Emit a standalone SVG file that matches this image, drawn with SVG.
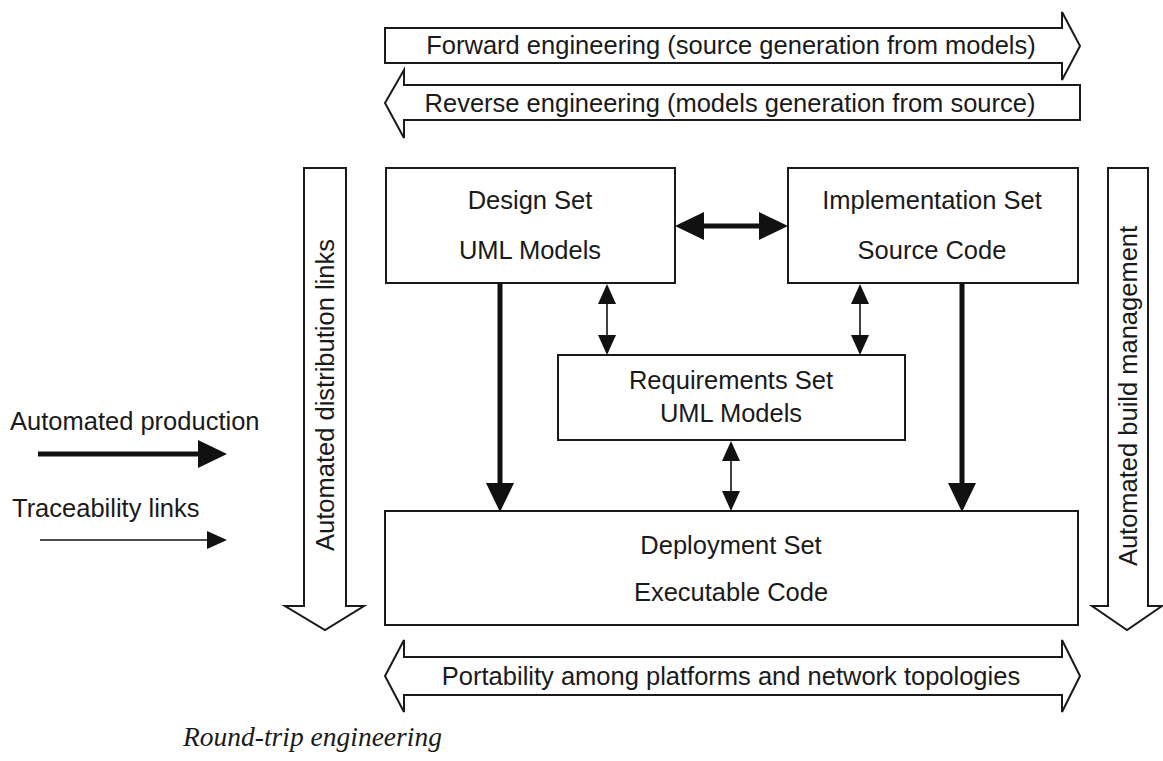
<svg xmlns="http://www.w3.org/2000/svg" width="1163" height="761" viewBox="0 0 1163 761">
<style>
text{font-family:"Liberation Sans",Arial,sans-serif;font-size:25.5px;fill:#1a1a1a;text-anchor:middle}
.box{fill:#fff;stroke:#1a1a1a;stroke-width:2}
.hollow{fill:#fff;stroke:#1a1a1a;stroke-width:2;stroke-linejoin:miter}
.thick{stroke:#111;stroke-width:5;fill:none}
.thin{stroke:#111;stroke-width:1.6;fill:none}
.legend{text-anchor:start}
.cap{font-family:"Liberation Serif","Times New Roman",serif;font-style:italic;font-size:27.5px;text-anchor:start}
</style>
<defs>
<marker id="hThick" viewBox="0 0 29 28" refX="0" refY="14" markerWidth="29" markerHeight="28" markerUnits="userSpaceOnUse" orient="auto-start-reverse"><path d="M0,0 L29,14 L0,28 z" fill="#111"/></marker>
<marker id="hThin" viewBox="0 0 20 18" refX="0" refY="9" markerWidth="20" markerHeight="18" markerUnits="userSpaceOnUse" orient="auto-start-reverse"><path d="M0,0 L20,9 L0,18 z" fill="#111"/></marker>
</defs>
<rect width="1163" height="761" fill="#fff"/>

<g id="forward">
<polygon class="hollow" points="385,28 1062,28 1062,12 1080,46 1062,80 1062,63 385,63"/>
<text x="731" y="54">Forward engineering (source generation from models)</text>
</g>
<g id="reverse">
<polygon class="hollow" points="1080,85 404,85 404,70 385,103 404,138 404,120 1080,120"/>
<text x="730" y="112">Reverse engineering (models generation from source)</text>
</g>

<g id="distribution">
<polygon class="hollow" points="304,168 346,168 346,606 364,606 325,630 285,606 304,606"/>
<text transform="translate(334,395) rotate(-90)">Automated distribution links</text>
</g>
<g id="build">
<polygon class="hollow" points="1108,168 1148,168 1148,606 1162,606 1127,630 1092,606 1108,606"/>
<text transform="translate(1137,396) rotate(-90)">Automated build management</text>
</g>

<g id="design">
<rect class="box" x="386" y="168" width="289" height="115"/>
<text x="530" y="209">Design Set</text>
<text x="530" y="259">UML Models</text>
</g>
<g id="implementation">
<rect class="box" x="788" y="168" width="290" height="115"/>
<text x="932" y="209">Implementation Set</text>
<text x="932" y="259">Source Code</text>
</g>
<g id="requirements">
<rect class="box" x="558" y="355" width="347" height="85"/>
<text x="731" y="389">Requirements Set</text>
<text x="731" y="422">UML Models</text>
</g>
<g id="deployment">
<rect class="box" x="385" y="511" width="693" height="114"/>
<text x="731" y="554">Deployment Set</text>
<text x="731" y="601">Executable Code</text>
</g>

<g id="portability">
<polygon class="hollow" points="385,676 404,640 404,657 1062,657 1062,640 1080,676 1062,712 1062,695 404,695 404,712"/>
<text x="731" y="685">Portability among platforms and network topologies</text>
</g>

<g id="connectors">
<line class="thick" x1="704" y1="226" x2="759" y2="226" marker-start="url(#hThick)" marker-end="url(#hThick)"/>
<line class="thick" x1="500" y1="283" x2="500" y2="483" marker-end="url(#hThick)"/>
<line class="thick" x1="962" y1="283" x2="962" y2="483" marker-end="url(#hThick)"/>
<line class="thin" x1="607" y1="304" x2="607" y2="335" marker-start="url(#hThin)" marker-end="url(#hThin)"/>
<line class="thin" x1="860" y1="304" x2="860" y2="335" marker-start="url(#hThin)" marker-end="url(#hThin)"/>
<line class="thin" x1="731" y1="461" x2="731" y2="491" marker-start="url(#hThin)" marker-end="url(#hThin)"/>
</g>

<g id="legend">
<text class="legend" x="10" y="430">Automated production</text>
<line class="thick" x1="38" y1="454" x2="198" y2="454" marker-end="url(#hThick)"/>
<text class="legend" x="12" y="517">Traceability links</text>
<line class="thin" x1="40" y1="540" x2="207" y2="540" marker-end="url(#hThin)"/>
</g>

<text class="cap" x="183" y="746">Round-trip engineering</text>
</svg>
